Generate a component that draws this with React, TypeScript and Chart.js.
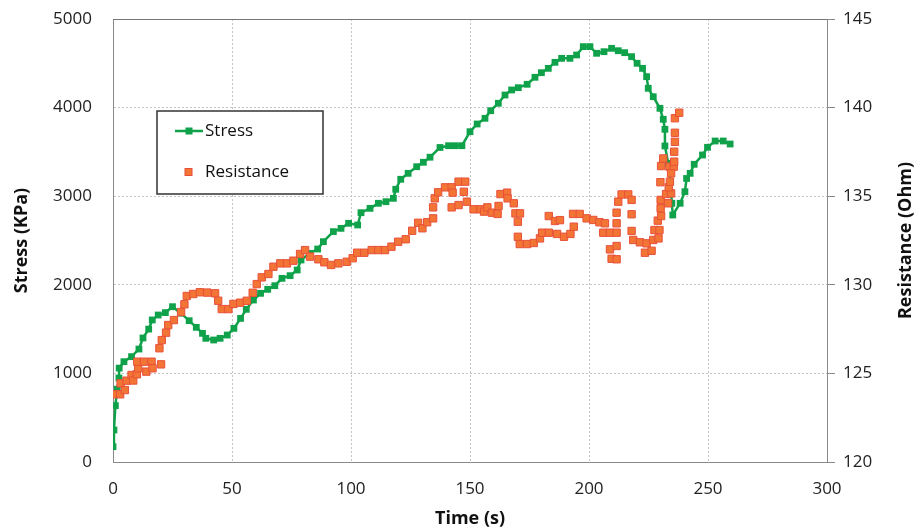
import React, { useEffect, useRef } from "react";
import { Chart, registerables } from "chart.js";

Chart.register(...registerables);

const stressTime = [0, 0.4, 1, 1.8, 2.5, 2.6, 4.6, 7.8, 10.9, 12.6, 15, 16.5, 19, 22, 25, 28.5, 32, 35, 37.6, 39, 42.3, 45, 48, 50.8, 53.6, 56, 59, 62, 65, 68, 71, 74.4, 77.4, 79, 82.6, 86, 88.4, 92.6, 95.8, 99, 102.8, 104.2, 108, 111.5, 114.7, 117.8, 118.8, 120.9, 124, 127.6, 130.4, 133.2, 137.4, 141, 143.8, 146.6, 150, 153, 156.3, 158.7, 161.9, 164.7, 167.5, 170.3, 174, 177.3, 180, 182.9, 185.7, 188.5, 192, 194.8, 197.6, 200.4, 203.2, 206.3, 209.5, 212.3, 215, 217.9, 220.2, 222.5, 224.2, 224.9, 227, 229.8, 231.2, 231.9, 231.9, 233.3, 234.3, 234.8, 235.2, 238.3, 240.3, 241, 242.5, 244.2, 247.7, 249.8, 253, 256.4, 259.3];
const stressValues = [173, 361, 636, 822, 948, 1060, 1132, 1189, 1275, 1400, 1500, 1603, 1659, 1686, 1753, 1680, 1595, 1520, 1452, 1396, 1377, 1396, 1433, 1508, 1621, 1723, 1828, 1904, 1949, 1990, 2073, 2103, 2167, 2280, 2355, 2404, 2487, 2600, 2637, 2694, 2675, 2814, 2863, 2920, 2938, 2976, 3078, 3191, 3258, 3333, 3383, 3440, 3550, 3570, 3570, 3570, 3728, 3815, 3879, 3965, 4049, 4142, 4199, 4225, 4263, 4342, 4394, 4443, 4511, 4556, 4556, 4594, 4688, 4688, 4613, 4631, 4669, 4642, 4620, 4575, 4500, 4443, 4349, 4218, 4123, 3992, 3868, 3755, 3567, 3371, 3164, 2920, 2788, 2920, 3051, 3200, 3258, 3360, 3465, 3552, 3623, 3623, 3589];

const resistanceTime = [0, 3, 3.2, 5, 5.7, 7.8, 8.5, 10, 10.6, 10.2, 13, 16.2, 14, 16.6, 20.2, 19.5, 20.5, 22.3, 23.2, 25.6, 28.6, 30, 31, 33.7, 36.5, 39.6, 42.9, 44.2, 45.7, 48.5, 50.6, 53.4, 56.2, 58.7, 60.4, 62.5, 65.3, 67.4, 70.3, 73.1, 75.8, 78.6, 80.7, 82.8, 86.3, 88.8, 91.6, 94.7, 98.2, 100.7, 102.6, 105.6, 108.7, 111.5, 114.3, 117, 119.8, 123, 125.7, 128.2, 130, 132, 134.5, 134.5, 135.2, 136.6, 139.5, 142.3, 142.7, 145.2, 148, 147.4, 142.3, 145.2, 148.7, 151.5, 154.4, 155.9, 157.3, 159.2, 161.6, 162, 162.8, 165.6, 165.8, 168.4, 169.1, 171, 170.1, 170.1, 170.9, 174, 176.8, 179.4, 180.3, 183.1, 183.1, 185.7, 187.8, 186.6, 189.5, 192.2, 193.6, 193.3, 196.1, 199, 201.8, 204.4, 206.7, 206, 208.8, 211.6, 211.6, 211.6, 212.3, 213.7, 216.5, 217.9, 217.9, 217.9, 218.6, 221.4, 224.2, 223.5, 226.3, 208.8, 211.6, 209.5, 211.6, 227, 229.2, 227.5, 229.6, 228.9, 230.3, 230.1, 230.1, 232.4, 234.5, 233.5, 230, 230.3, 233.8, 235.6, 231.2, 235.8, 235.8, 236.1, 236.1, 236.1, 237.9, 234.5, 234, 233.2];
const resistanceValues = [123.82, 123.82, 124.44, 124.06, 124.59, 124.91, 124.6, 124.95, 125.29, 125.66, 125.66, 125.66, 125.1, 125.29, 125.51, 126.42, 126.88, 127.3, 127.73, 128.01, 128.46, 128.9, 129.37, 129.48, 129.58, 129.56, 129.52, 129.1, 128.63, 128.63, 128.92, 128.99, 129.1, 129.55, 130.04, 130.42, 130.61, 131.02, 131.21, 131.21, 131.36, 131.74, 131.96, 131.59, 131.44, 131.27, 131.12, 131.21, 131.3, 131.5, 131.81, 131.81, 131.96, 131.96, 131.96, 132.15, 132.43, 132.57, 133.05, 133.5, 133.19, 133.53, 133.75, 134.37, 134.88, 135.22, 135.5, 135.5, 135.2, 135.82, 135.82, 135.25, 134.37, 134.5, 134.69, 134.26, 134.26, 134.13, 134.37, 134.07, 134.0, 134.45, 135.12, 135.2, 134.88, 134.6, 134.03, 134.03, 133.56, 132.71, 132.3, 132.3, 132.36, 132.62, 132.94, 132.94, 133.88, 133.6, 133.65, 132.87, 132.71, 132.87, 133.28, 134.0, 134.0, 133.75, 133.66, 133.53, 133.47, 132.94, 132.94, 132.94, 133.47, 134.07, 134.69, 135.1, 135.1, 134.79, 133.98, 133.04, 132.53, 132.4, 132.34, 131.81, 131.92, 132.0, 132.19, 131.47, 131.44, 132.53, 132.62, 133.09, 133.09, 133.62, 133.88, 134.32, 134.79, 135.12, 135.16, 135.5, 135.79, 136.7, 136.67, 136.67, 137.13, 136.95, 137.51, 138.07, 138.58, 139.4, 139.71, 136.29, 135.82, 134.6];

const xRange = [0, 300];
const stressRange = [0, 5000];
const resistanceRange = [120, 145];
const xTitle = "Time (s)";
const leftTitle = "Stress (KPa)";
const rightTitle = "Resistance (Ohm)";
const seriesNames = ["Stress", "Resistance"];

const GREEN = "#0FA24A";
const ORANGE = "#F37535";
const ORANGE_EDGE = "#E8503A";
const FONT = "'Open Sans', 'DejaVu Sans', sans-serif";

const plain = (v: any) => String(v);

export default function App() {
  const ref = useRef<HTMLCanvasElement | null>(null);

  useEffect(() => {
    document.body.style.margin = "0";
    const canvas = ref.current;
    if (!canvas) return;

    const overlay = {
      id: "overlay",
      afterDraw(chart: any) {
        const { ctx, chartArea } = chart;
        const { left, right, top, bottom } = chartArea;
        ctx.save();
        ctx.strokeStyle = "#777";
        ctx.lineWidth = 1;
        ctx.setLineDash([]);
        ctx.beginPath();
        ctx.moveTo(left, Math.round(top) + 0.5);
        ctx.lineTo(right, Math.round(top) + 0.5);
        ctx.stroke();

        ctx.fillStyle = "#111";
        ctx.font = `bold 18px ${FONT}`;
        ctx.textAlign = "center";
        ctx.textBaseline = "middle";
        ctx.fillText(xTitle, (left + right) / 2, 519);
        const cy = (top + bottom) / 2;
        ctx.save();
        ctx.translate(22, cy);
        ctx.rotate(-Math.PI / 2);
        ctx.fillText(leftTitle, 0, 0);
        ctx.restore();
        ctx.save();
        ctx.translate(906, cy);
        ctx.rotate(-Math.PI / 2);
        ctx.fillText(rightTitle, 0, 0);
        ctx.restore();

        const bx = 157, by = 111, bw = 166, bh = 83;
        ctx.fillStyle = "#fff";
        ctx.fillRect(bx, by, bw, bh);
        ctx.strokeStyle = "#333";
        ctx.lineWidth = 1.5;
        ctx.strokeRect(bx, by, bw, bh);
        const y1 = 131, y2 = 172;
        ctx.strokeStyle = GREEN;
        ctx.lineWidth = 2.5;
        ctx.beginPath();
        ctx.moveTo(175, y1);
        ctx.lineTo(203, y1);
        ctx.stroke();
        ctx.fillStyle = GREEN;
        ctx.fillRect(185.5, y1 - 3.5, 7, 7);
        ctx.fillStyle = ORANGE;
        ctx.strokeStyle = ORANGE_EDGE;
        ctx.lineWidth = 1;
        ctx.fillRect(185, y2 - 3.5, 7, 7);
        ctx.strokeRect(185, y2 - 3.5, 7, 7);
        ctx.fillStyle = "#111";
        ctx.font = `17px ${FONT}`;
        ctx.textAlign = "left";
        ctx.fillText(seriesNames[0], 205, y1);
        ctx.fillText(seriesNames[1], 205, y2);
        ctx.restore();
      },
    };

    const chart = new Chart(canvas, {
      type: "scatter",
      data: {
        datasets: [
          {
            label: seriesNames[0],
            data: stressTime.map((t, i) => ({ x: t, y: stressValues[i] })),
            yAxisID: "y",
            showLine: true,
            borderColor: GREEN,
            backgroundColor: GREEN,
            borderWidth: 2.5,
            pointStyle: "rect",
            pointRadius: 4.8,
            pointBorderWidth: 0,
            order: 2,
          },
          {
            label: seriesNames[1],
            data: resistanceTime.map((t, i) => ({ x: t, y: resistanceValues[i] })),
            yAxisID: "y1",
            showLine: false,
            borderColor: ORANGE_EDGE,
            backgroundColor: ORANGE,
            pointStyle: "rect",
            pointRadius: 5.2,
            pointBorderWidth: 1,
            order: 1,
          },
        ],
      },
      options: {
        responsive: false,
        animation: false,
        layout: { padding: { top: 19, left: 0, right: 0, bottom: 0 } },
        plugins: {
          legend: { display: false },
          tooltip: { enabled: false },
        },
        scales: {
          x: {
            type: "linear",
            min: xRange[0],
            max: xRange[1],
            afterFit: (s: any) => { s.height = 69; },
            ticks: {
              stepSize: 50,
              padding: 17,
              color: "#222",
              font: { family: FONT, size: 17 },
              callback: plain,
            },
            grid: { color: "#c4c4c4", drawTicks: false, lineWidth: 1 },
            border: { display: true, color: "#8a8a8a", width: 1, dash: [2, 2] },
          },
          y: {
            type: "linear",
            position: "left",
            min: stressRange[0],
            max: stressRange[1],
            afterFit: (s: any) => { s.width = 113; },
            ticks: {
              stepSize: 1000,
              padding: 0,
              color: "#222",
              font: { family: FONT, size: 17 },
              callback: plain,
            },
            grid: { color: "#c4c4c4", drawTicks: true, tickLength: 21, tickColor: "rgba(0,0,0,0)", lineWidth: 1 },
            border: { display: true, color: "#8a8a8a", width: 1, dash: [2, 2] },
          },
          y1: {
            type: "linear",
            position: "right",
            min: resistanceRange[0],
            max: resistanceRange[1],
            afterFit: (s: any) => { s.width = 93; },
            ticks: {
              stepSize: 5,
              padding: 8,
              color: "#222",
              font: { family: FONT, size: 17 },
              callback: plain,
            },
            grid: { drawOnChartArea: false, drawTicks: true, tickLength: 8, color: "#8a8a8a" },
            border: { display: true, color: "#8a8a8a", width: 1 },
          },
        },
      },
      plugins: [overlay],
    });

    return () => chart.destroy();
  }, []);

  return (
    <div style={{ width: 920, height: 531 }}>
      <canvas ref={ref} width={920} height={531} style={{ display: "block" }} />
    </div>
  );
}
